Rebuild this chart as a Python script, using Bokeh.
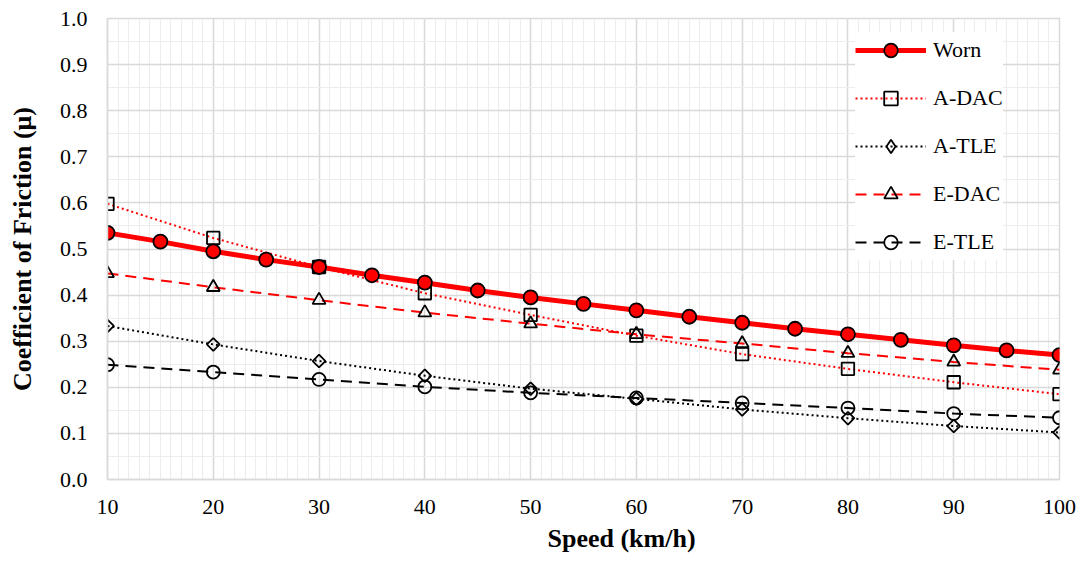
import math
from bokeh.plotting import figure
from bokeh.models import (Range1d, SingleIntervalTicker, PrintfTickFormatter,
                          Legend, LegendItem, Title)
from bokeh.embed import file_html
from bokeh.resources import INLINE

# ---- data ----
speed_worn = [10, 15, 20, 25, 30, 35, 40, 45, 50, 55, 60, 65, 70, 75, 80, 85, 90, 95, 100]
worn = [0.535, 0.516, 0.495, 0.477, 0.461, 0.443, 0.427, 0.410, 0.395, 0.381,
        0.367, 0.353, 0.340, 0.327, 0.315, 0.303, 0.291, 0.280, 0.270]

speed = [10, 20, 30, 40, 50, 60, 70, 80, 90, 100]
a_dac = [0.598, 0.524, 0.461, 0.404, 0.357, 0.312, 0.272, 0.240, 0.211, 0.185]
a_tle = [0.333, 0.293, 0.257, 0.225, 0.197, 0.175, 0.152, 0.133, 0.116, 0.102]
e_dac = [0.447, 0.417, 0.389, 0.362, 0.338, 0.315, 0.295, 0.274, 0.255, 0.238]
e_tle = [0.249, 0.233, 0.217, 0.201, 0.188, 0.177, 0.166, 0.155, 0.143, 0.134]

series_names = ["Worn", "A-DAC", "A-TLE", "E-DAC", "E-TLE"]
x_title = "Speed (km/h)"
y_title = "Coefficient of Friction (μ)"

FONT = "Liberation Serif"
RED = "#ff0000"

p = figure(width=1081, height=561, output_backend="svg", toolbar_location=None,
           x_range=Range1d(10, 100), y_range=Range1d(0, 1.0),
           min_border_left=107, min_border_right=22, min_border_top=18,
           min_border_bottom=82)
p.background_fill_color = "white"
p.border_fill_color = "white"
p.outline_line_color = "#d9d9d9"
p.outline_line_width = 1.5

# axes
p.xaxis.ticker = SingleIntervalTicker(interval=10, num_minor_ticks=10)
p.yaxis.ticker = SingleIntervalTicker(interval=0.1, num_minor_ticks=2)
p.yaxis.formatter = PrintfTickFormatter(format="%.1f")
p.axis.axis_line_color = "#d9d9d9"
p.axis.axis_line_width = 1.5
p.axis.major_tick_line_color = None
p.axis.minor_tick_line_color = None
p.axis.major_tick_out = 0
p.axis.major_tick_in = 0
p.axis.minor_tick_out = 0
p.axis.major_label_text_font = FONT
p.axis.major_label_text_font_size = "22px"
p.axis.major_label_text_color = "#000000"
p.xaxis.major_label_standoff = 20
p.yaxis.major_label_standoff = 20

p.yaxis.axis_label = y_title
p.yaxis.axis_label_text_font = FONT
p.yaxis.axis_label_text_font_size = "26px"
p.yaxis.axis_label_text_font_style = "bold"
p.yaxis.axis_label_text_color = "#000000"
p.yaxis.axis_label_standoff = 20

p.add_layout(Title(text=x_title, align="left", offset=440, text_font=FONT,
                   text_font_size="26px", text_font_style="bold",
                   vertical_align="bottom",
                   text_color="#000000", standoff=11), "below")

# grids
for g in (p.xgrid[0], p.ygrid[0]):
    g.grid_line_color = "#d9d9d9"
    g.grid_line_width = 1.5
    g.minor_grid_line_color = "#ededed"
    g.minor_grid_line_width = 1.2

# series
r_adac_l = p.line(speed, a_dac, line_color=RED, line_width=2, line_dash="2 3")
r_adac_m = p.scatter(speed, a_dac, marker="square", size=12.5, fill_alpha=0,
                     line_color="black", line_width=1.8)
r_atle_l = p.line(speed, a_tle, line_color="black", line_width=2, line_dash="2 3")
r_atle_m = p.scatter(speed, a_tle, marker="square", angle=math.pi / 4, size=9,
                     fill_alpha=0, line_color="black", line_width=1.8)
# same points as a diamond marker of zero size: only its legend swatch shows
r_atle_key = p.scatter(speed, a_tle, marker="diamond", size=0, fill_alpha=0,
                       line_color="black", line_width=1.8)
r_edac_l = p.line(speed, e_dac, line_color=RED, line_width=2, line_dash="11 7")
r_edac_m = p.scatter(speed, e_dac, marker="triangle", size=13, fill_alpha=0,
                     line_color="black", line_width=1.8)
r_etle_l = p.line(speed, e_tle, line_color="black", line_width=2, line_dash="11 7")
r_etle_m = p.scatter(speed, e_tle, marker="circle", size=13, fill_alpha=0,
                     line_color="black", line_width=1.8)
r_worn_l = p.line(speed_worn, worn, line_color=RED, line_width=5)
r_worn_m = p.scatter(speed_worn, worn, marker="circle", size=14, fill_color=RED,
                     line_color="black", line_width=1.8)

items = [
    LegendItem(label=series_names[0], renderers=[r_worn_l, r_worn_m]),
    LegendItem(label=series_names[1], renderers=[r_adac_l, r_adac_m]),
    LegendItem(label=series_names[2], renderers=[r_atle_l, r_atle_key]),
    LegendItem(label=series_names[3], renderers=[r_edac_l, r_edac_m]),
    LegendItem(label=series_names[4], renderers=[r_etle_l, r_etle_m]),
]
legend = Legend(items=items, location=(748, 219), orientation="vertical",
                background_fill_color="white", background_fill_alpha=1,
                border_line_color=None, padding=12, spacing=12,
                label_height=36, glyph_height=34, glyph_width=71,
                label_standoff=7, label_text_font=FONT,
                label_text_font_size="22px", label_text_color="#000000",
                margin=0)
p.add_layout(legend, "center")

open("out.html", "w").write(file_html(p, INLINE))
